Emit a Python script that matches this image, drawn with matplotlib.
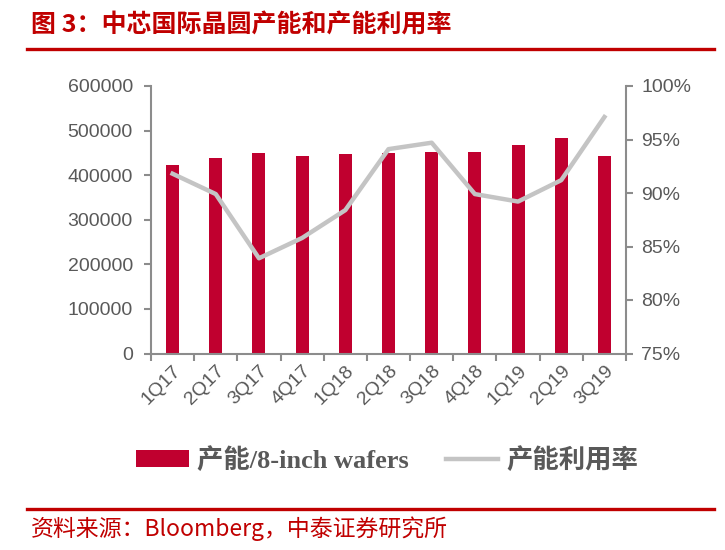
import matplotlib.pyplot as plt
from matplotlib.lines import Line2D
from matplotlib.patches import Patch

plt.rcParams['font.family'] = ['Liberation Sans', 'Noto Sans CJK SC']

quarters = ['1Q17', '2Q17', '3Q17', '4Q17', '1Q18', '2Q18', '3Q18', '4Q18', '1Q19', '2Q19', '3Q19']
capacity = [422000, 437500, 449000, 442000, 448000, 449500, 451000, 451000, 467000, 482500, 444000]
utilization = [91.8, 89.9, 83.9, 85.8, 88.4, 94.1, 94.7, 89.9, 89.2, 91.2, 97.1]

bar_color = '#C0002F'
line_color = '#C4C4C4'
axis_color = '#8C8C8C'
text_color = '#595959'
red = '#C00000'

fig = plt.figure(figsize=(7.25, 5.5), dpi=100)
ax = fig.add_axes([151 / 725, 1 - 353.5 / 550, 475 / 725, 267.5 / 550])
x = list(range(len(quarters)))

ax.bar(x, capacity, width=0.3, color=bar_color, zorder=2)
ax.set_xlim(-0.5, len(quarters) - 0.5)
ax.set_ylim(0, 600000)
ax.set_yticks(range(0, 600001, 100000))
ax.set_yticklabels([str(v) for v in range(0, 600001, 100000)])

ax2 = ax.twinx()
ax2.plot(x, utilization, color=line_color, linewidth=3.2, zorder=3)
ax2.set_ylim(75, 100)
ax2.set_yticks(range(75, 101, 5))
ax2.set_yticklabels([f'{v}%' for v in range(75, 101, 5)])

# category ticks sit on boundaries, labels sit at centers
ax.set_xticks([i - 0.5 for i in range(len(quarters) + 1)])
ax.set_xticklabels([])
ax.set_xticks(x, minor=True)
ax.set_xticklabels(quarters, minor=True, rotation=45, ha='right', va='top',
                   rotation_mode='anchor', fontsize=14, color=text_color)
ax.tick_params(axis='x', which='minor', length=0, pad=6)

for a in (ax, ax2):
    a.spines['top'].set_visible(False)
    for side in ('left', 'right', 'bottom'):
        a.spines[side].set_color(axis_color)
        a.spines[side].set_linewidth(1.5)
ax.spines['right'].set_visible(False)
ax2.spines['left'].set_visible(False)
ax2.spines['bottom'].set_visible(False)

ax.tick_params(axis='y', colors=axis_color, labelcolor=text_color, labelsize=14,
               length=5, width=1.5, direction='out', pad=8)
ax.tick_params(axis='x', which='major', colors=axis_color, length=5, width=1.5, direction='out')
ax2.tick_params(axis='y', colors=axis_color, labelcolor=text_color, labelsize=14,
                length=5, width=1.5, direction='out', pad=6)

# title and source
fig.text(31 / 725, 1 - 26 / 550, '图 3：中芯国际晶圆产能和产能利用率', color=red,
         fontsize=18, fontweight='bold', va='center', ha='left',
         family=['Noto Sans CJK SC'])
fig.add_artist(Line2D([27 / 725, 714 / 725], [1 - 48.5 / 550, 1 - 48.5 / 550], color=red, lw=2.4))
fig.add_artist(Line2D([27 / 725, 714 / 725], [1 - 508.5 / 550, 1 - 508.5 / 550], color=red, lw=2.4))
fig.text(31 / 725, 1 - 529 / 550, '资料来源：Bloomberg，中泰证券研究所', color=red,
         fontsize=16.5, va='center', ha='left', family=['Noto Sans CJK SC'])

handles = [Patch(facecolor=bar_color, edgecolor='none'),
           Line2D([], [], color=line_color, lw=3.2)]
fig.legend(handles, ['产能/8-inch wafers', '产能利用率'], loc='center',
           bbox_to_anchor=(0.534, 1 - 460 / 550), ncol=2, frameon=False,
           prop={'family': ['Liberation Serif', 'Noto Sans CJK SC'], 'size': 19, 'weight': 'bold'},
           labelcolor=text_color, handlelength=2.0, handleheight=0.6, columnspacing=1.4,
           handletextpad=0.3)

fig.savefig('out.png', dpi=100)
